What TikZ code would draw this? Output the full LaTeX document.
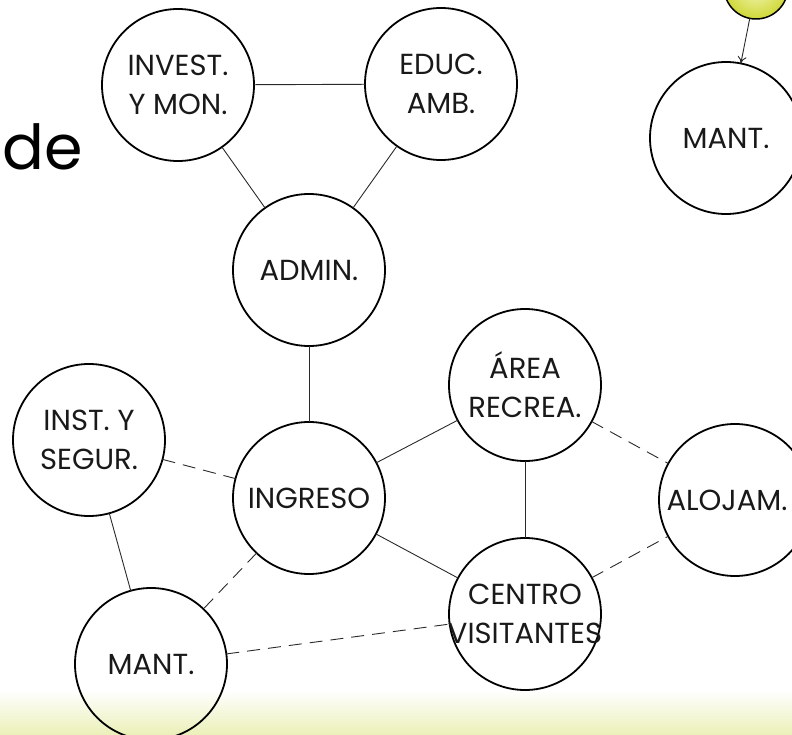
\documentclass[tikz,border=0pt]{standalone}
\usepackage{fontspec}
\setmainfont{Poppins}
\usetikzlibrary{arrows.meta}
\definecolor{bandc}{HTML}{EBF0B8}
\definecolor{sunrim}{HTML}{CFD838}
\definecolor{suncore}{HTML}{F4F7B8}
\definecolor{linkc}{HTML}{2A2A2A}
\begin{document}
\begin{tikzpicture}[x=1pt,y=-1pt,
  place/.style={circle,draw=black,line width=1.8pt,minimum size=152pt,inner sep=0pt,outer sep=0pt},
  txt/.style={align=center,font=\fontsize{29}{39}\selectfont,inner sep=0pt,text=black!90},
  link/.style={draw=linkc,line width=0.9pt},
  weak/.style={link,dash pattern=on 13pt off 8pt}]

\useasboundingbox (0,0) rectangle (792,735);

% pale band along the bottom edge
\shade[top color=white,bottom color=bandc] (0,690) rectangle (792,735);

% heading fragment at the left edge
\node[anchor=base west,inner sep=0pt,font=\fontsize{62}{62}\selectfont] (head) at (2,170) {de};

% areas
\node[place,label={[txt,name=inv-t]center:INVEST.\\Y MON.}] (inv) at (178,85) {};
\node[place,label={[txt,name=edu-t]center:EDUC.\\AMB.}] (edu) at (441,84) {};
\node[place,label={[txt,name=adm-t]center:ADMIN.}] (adm) at (309,270) {};
\node[place,label={[txt,name=inst-t]center:INST. Y\\SEGUR.}] (inst) at (89,440) {};
\node[place,label={[txt,name=ing-t]center:INGRESO}] (ing) at (309,498) {};
\node[place,label={[txt,name=area-t]center:ÁREA\\RECREA.}] (area) at (525,385) {};
\node[place,label={[txt,name=aloj-t,xshift=-8pt]center:ALOJAM.}] (aloj) at (735,500) {};
\node[place,label={[txt,name=cen-t]center:CENTRO\\VISITANTES}] (cen) at (525,614) {};
\node[place,label={[txt,name=mantA-t]center:MANT.}] (mantA) at (151,664) {};
\node[place,label={[txt,name=mantB-t]center:MANT.}] (mantB) at (726,138) {};

% yellow marker at the top right
\node[circle,draw=black,line width=1.5pt,minimum size=64pt,inner sep=0pt,outer sep=0pt,
      inner color=suncore,outer color=sunrim] (sun) at (756,-13) {};

% direct links
\draw[link] (inv) -- (edu);
\draw[link] (inv) -- (adm);
\draw[link] (edu) -- (adm);
\draw[link] (adm) -- (ing);
\draw[link] (ing) -- (area);
\draw[link] (ing) -- (cen);
\draw[link] (area) -- (cen);
\draw[link] (inst) -- (mantA);

% secondary links
\draw[weak] (inst) -- (ing);
\draw[weak] (ing) -- (mantA);
\draw[weak] (mantA) -- (cen);
\draw[weak] (area) -- (aloj);
\draw[weak] (cen) -- (aloj);

% arrow into the maintenance area
\draw[link,-{To[length=7pt,width=9pt]}] (sun) -- (mantB);
\end{tikzpicture}
\end{document}
